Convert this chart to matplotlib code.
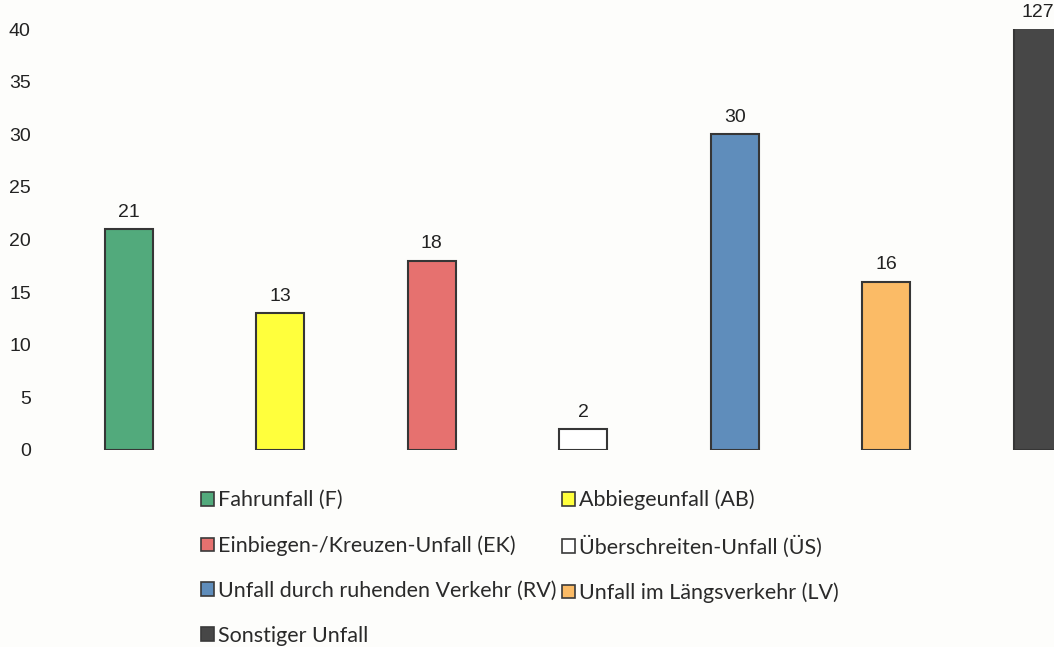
import matplotlib.pyplot as plt
from matplotlib.patches import Patch

categories = [
    "Fahrunfall (F)",
    "Abbiegeunfall (AB)",
    "Einbiegen-/Kreuzen-Unfall (EK)",
    "Überschreiten-Unfall (ÜS)",
    "Unfall durch ruhenden Verkehr (RV)",
    "Unfall im Längsverkehr (LV)",
    "Sonstiger Unfall",
]
values = [21, 13, 18, 2, 30, 16, 127]
colors = ["#52aa7c", "#ffff3c", "#e6716f", "#ffffff", "#5f8dbb", "#fbbb66", "#474747"]
y_ticks = [0, 5, 10, 15, 20, 25, 30, 35, 40]
y_max = 40


def main():
    fig = plt.figure(figsize=(10.54, 6.47), dpi=100)
    fig.patch.set_facecolor("#fdfdfb")
    ax = fig.add_axes([53 / 1054, 1 - 450 / 647, 1001 / 1054, 421 / 647])
    ax.set_facecolor("none")

    xs = list(range(len(values)))
    ax.bar(xs, values, width=0.32, color=colors, edgecolor="#363636", linewidth=1.5)

    for x, v in zip(xs, values):
        ax.annotate(
            str(v),
            xy=(x, min(v, y_max)),
            xytext=(0, 6),
            textcoords="offset points",
            ha="center",
            va="bottom",
            fontsize=14,
            family="Liberation Sans",
            color="#222222",
            annotation_clip=False,
        )

    ax.set_ylim(0, y_max)
    ax.set_xlim(-0.5, -0.5 + 1001 / 151.5)
    ax.set_yticks(y_ticks)
    ax.set_xticks([])
    ax.tick_params(axis="y", length=0, pad=16, labelsize=14, labelcolor="#222222")
    for lbl in ax.get_yticklabels():
        lbl.set_family("Liberation Sans")
    for side in ax.spines.values():
        side.set_visible(False)

    # legend fills column by column, so reorder to get the row layout
    handles = [Patch(facecolor=c, edgecolor="#3a3a3a", linewidth=1.2) for c in colors]
    order = [0, 2, 4, 6, 1, 3, 5]
    fig.legend(
        [handles[i] for i in order],
        [categories[i] for i in order],
        ncol=2,
        loc="upper left",
        bbox_to_anchor=(190 / 1054, 1 - 479 / 647),
        frameon=False,
        prop={"family": "Lato", "size": 15.5},
        labelcolor="#2a2a2a",
        handlelength=0.6,
        handleheight=0.6,
        handletextpad=0.2,
        columnspacing=0.25,
        labelspacing=1.16,
        borderpad=0,
    )

    fig.savefig("out.png", dpi=100, facecolor=fig.get_facecolor())


if __name__ == "__main__":
    main()
